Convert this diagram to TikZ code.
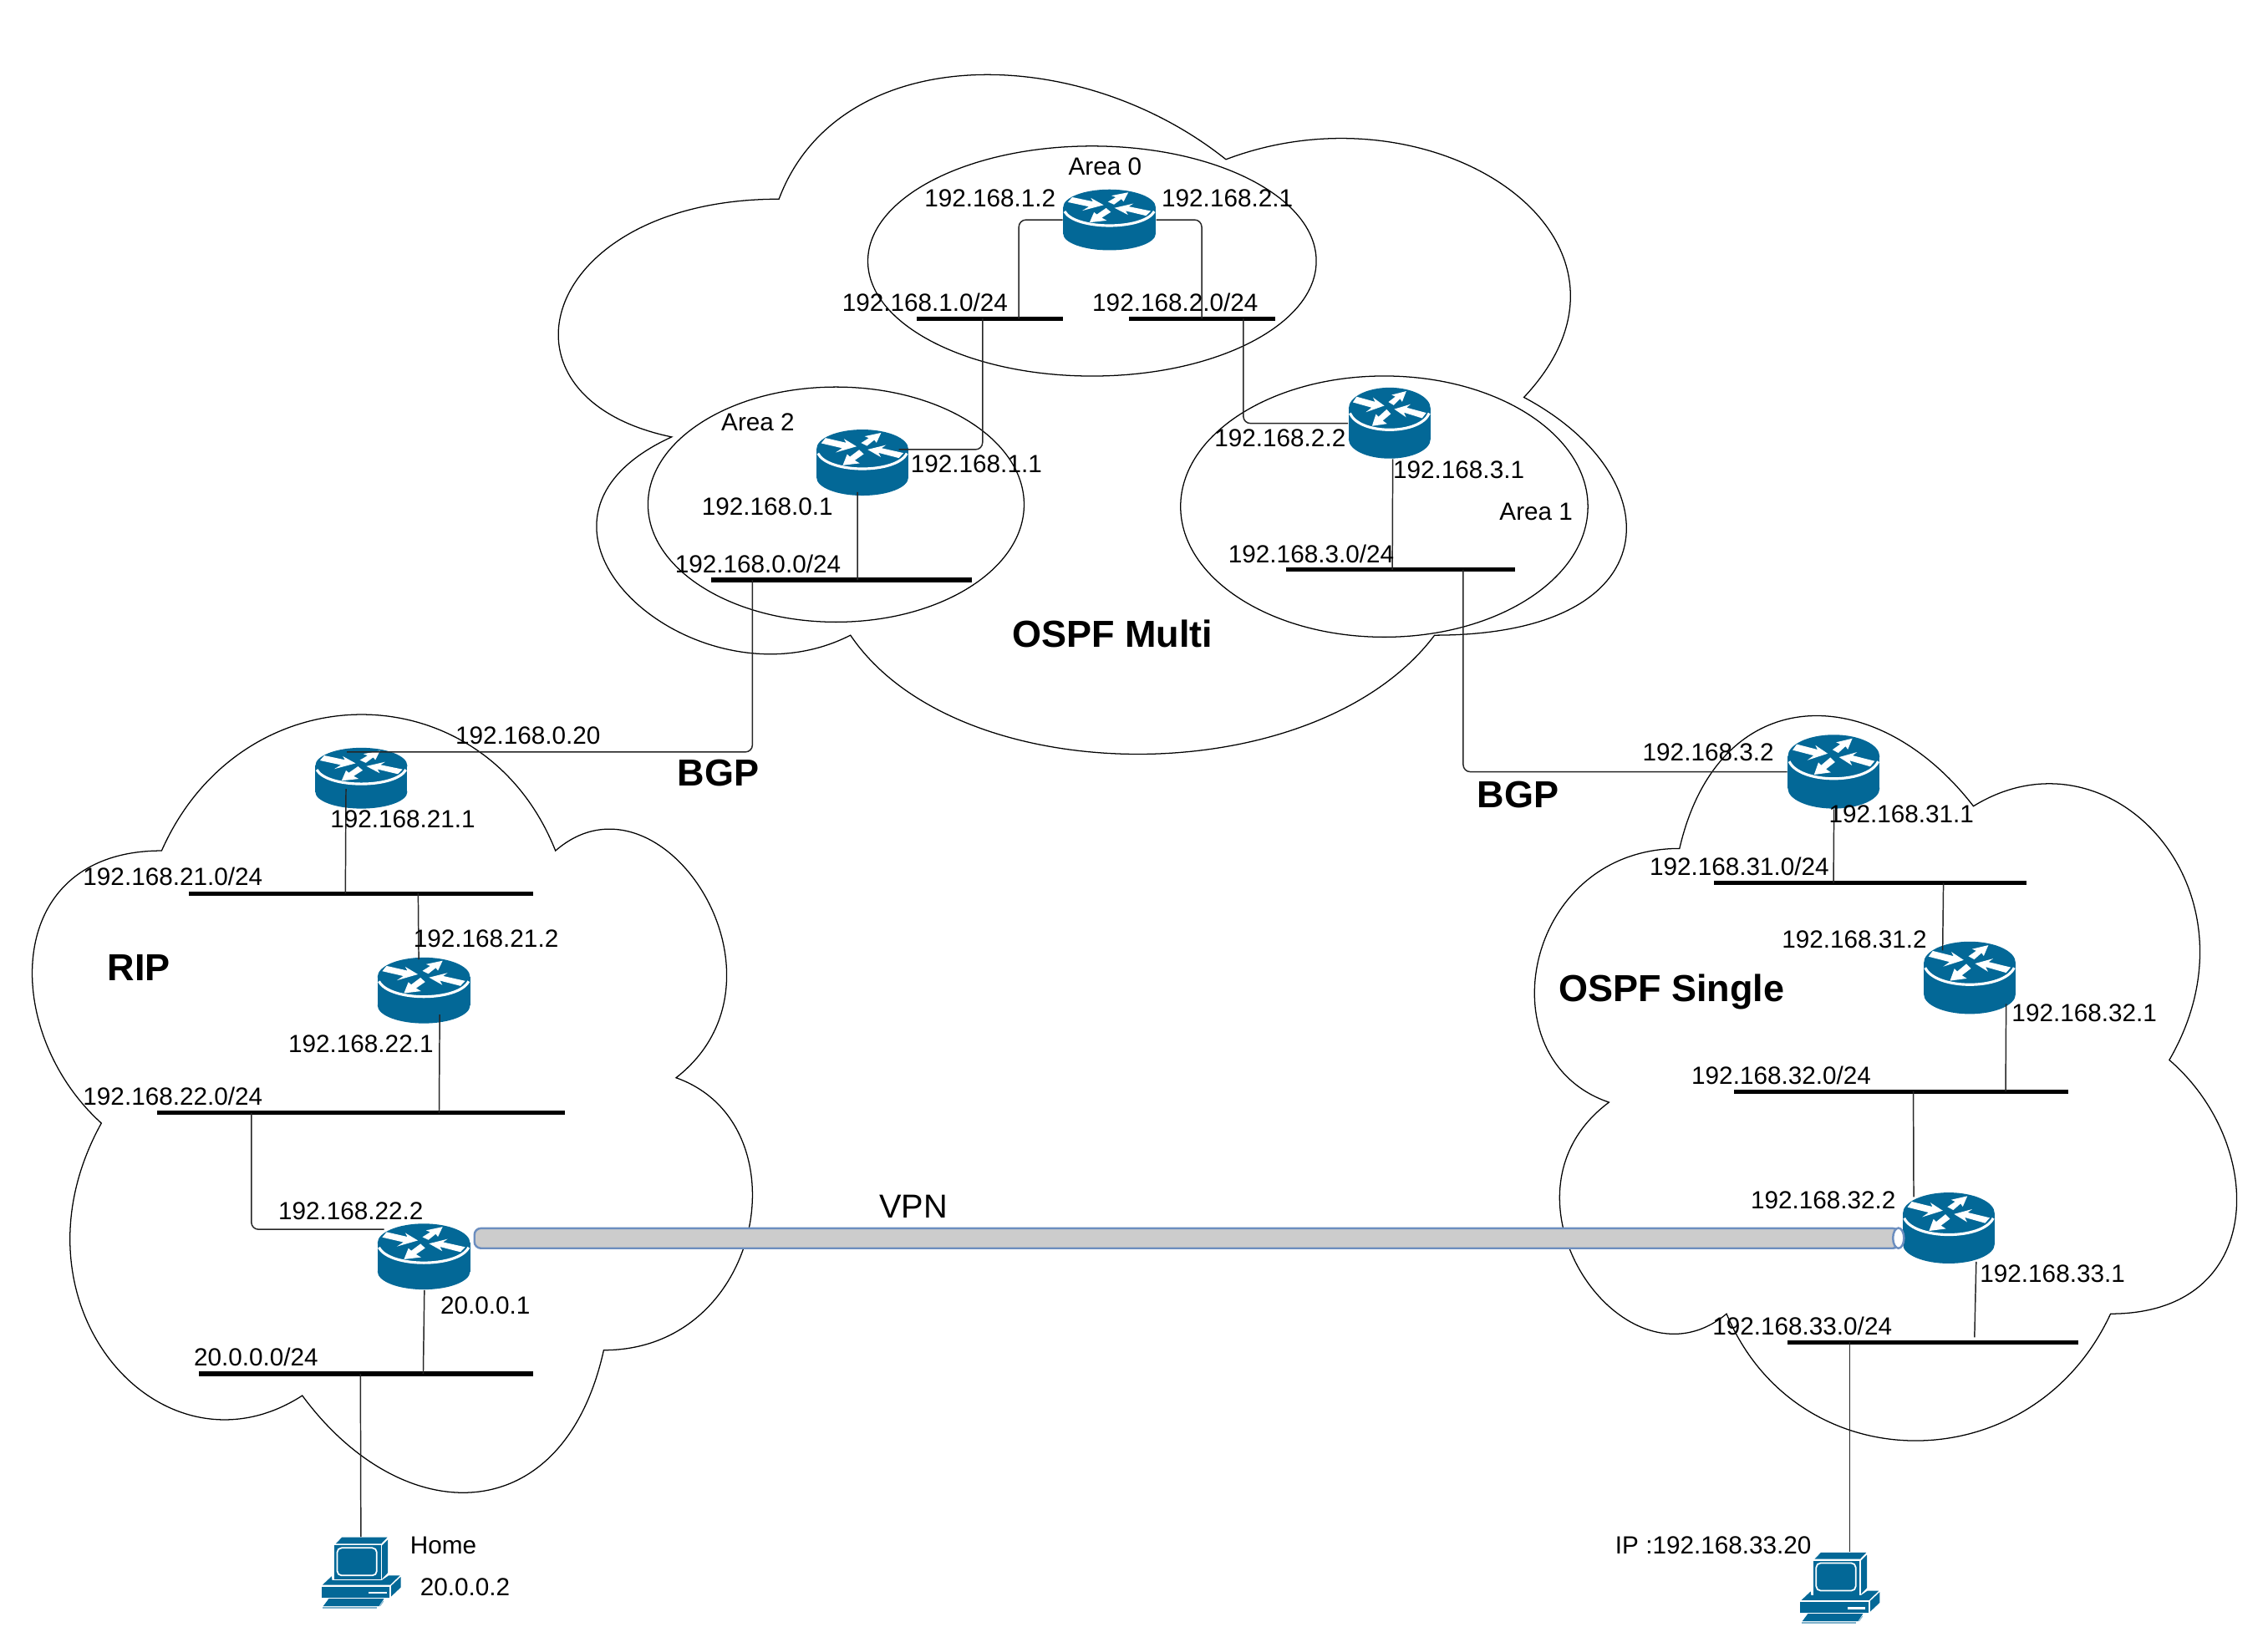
\documentclass[tikz,border=0pt]{standalone}
\usepackage{fontspec}
\setmainfont{Liberation Sans}
\usetikzlibrary{calc,shapes.geometric}
\definecolor{ciscoblue}{HTML}{036897}
\definecolor{pclight}{HTML}{7FB2CC}
\definecolor{tubeline}{HTML}{6C8EBF}
\definecolor{tubefill}{HTML}{CCCCCC}
\def\U{0.017309cm}
\tikzset{
  cloudline/.style={draw=black,line width=0.36pt},
  arealine/.style={draw=black,line width=0.36pt,ellipse,inner sep=0pt},
  link/.style={draw=black!85,line width=0.42pt,rounded corners=2.4pt},
  busbar/.style={fill=black,inner sep=0pt,minimum height={3*\U}},
  hub/.style={inner sep=0pt},
  lab/.style={inner sep=0pt,font=\fontsize{8.45}{10}\selectfont},
  labbig/.style={inner sep=0pt,font=\fontsize{11.3}{13}\selectfont},
  labbold/.style={inner sep=0pt,font=\fontsize{12.8}{15}\selectfont\bfseries},
  whitearrow/.style={fill=white,draw=white,line width=0.45pt},
  pics/router/.style={code={
    \begin{scope}[scale=.1926,shift={(-322,-311)}]
      \fill[ciscoblue] (322,262) ellipse [x radius=165,y radius=70];
      \fill[ciscoblue] (322,365) ellipse [x radius=165,y radius=65];
      \fill[ciscoblue] (157,262) rectangle (487,365);
      \draw[white,line width=0.9pt] (162,278) .. controls (200,352) and (444,352) .. (482,278);
      \filldraw[whitearrow] (178,240) -- (190,225) -- (268,243) -- (262,232) -- (295,252) -- (240,268) -- (255,258) -- cycle;
      \filldraw[whitearrow] (322,240) -- (350,222) -- (338,217) -- (385,207) -- (372,235) -- (365,226) -- (338,248) -- cycle;
      \filldraw[whitearrow] (465,278) -- (452,292) -- (375,272) -- (382,285) -- (347,265) -- (395,253) -- (385,260) -- cycle;
      \filldraw[whitearrow] (310,268) -- (323,280) -- (290,303) -- (305,312) -- (255,318) -- (268,285) -- (277,293) -- cycle;
    \end{scope}
  }},
  pics/pc/.style={code={
    \begin{scope}[scale=.1926,shift={(-275,-306)}]
      \fill[ciscoblue] (185,201) -- (207,178) -- (370,178) -- (348,201) -- cycle;
      \fill[ciscoblue] (351,207) -- (372,186) -- (372,305) -- (351,327) -- cycle;
      \fill[ciscoblue] (180,207) rectangle (346,330);
      \filldraw[draw=white,fill=ciscoblue,line width=0.5pt,rounded corners=1.5pt] (190,216) rectangle (332,315);
      \fill[ciscoblue] (137,349) -- (170,318) -- (172,332) -- (350,332) -- (375,315) -- (415,315) -- (380,349) -- cycle;
      \fill[ciscoblue] (133,356) rectangle (378,395);
      \fill[white] (303,373) rectangle (367,381);
      \fill[ciscoblue] (384,352) -- (418,320) -- (418,358) -- (384,390) -- cycle;
      \fill[ciscoblue] (160,398) -- (358,398) -- (340,425) -- (140,425) -- cycle;
      \fill[pclight] (138,428) rectangle (333,434);
      \fill[pclight] (342,425) -- (355,405) -- (357,408) -- (345,425) -- cycle;
    \end{scope}
  }},
}
\newcommand{\routerat}[5]{%
  \node[hub,minimum width={(#3-#2)*\U},minimum height={(#5-#4)*\U}] (#1) at ({(#2+#3)/2},{(#4+#5)/2}) {};
  \pic[xscale={(#3-#2)/63.6},yscale={(#5-#4)/45.8}] at (#1) {router};}
\newcommand{\busat}[4]{%
  \node[busbar,minimum width={(#3-#2)*\U}] (#1) at ({(#2+#3)/2},#4) {};}
\newcommand{\lbl}[4]{\node[lab] (#1) at (#2,#3) {#4};}
\newcommand{\cloudpath}{(.25,.25) .. controls (.05,.25) and (0,.5) .. (.16,.55)
  .. controls (0,.66) and (.18,.9) .. (.31,.8)
  .. controls (.4,1) and (.7,1) .. (.8,.8)
  .. controls (1,.8) and (1,.6) .. (.875,.5)
  .. controls (1,.3) and (.8,.1) .. (.625,.2)
  .. controls (.5,.05) and (.3,.05) .. (.25,.25) -- cycle}
\begin{document}
\begin{tikzpicture}[x=\U,y=-\U]
\useasboundingbox (0,0) rectangle (1568,1124.8);
\fill[white] (0,0) rectangle (1568,1124.8);

% clouds
\begin{scope}[shift={(332.5,0.6)},xscale=824.1,yscale=548.2]
  \draw[cloudline] \cloudpath;
\end{scope}
\begin{scope}[shift={(556.3,1090.4)},xscale=-555.7,yscale=-627.8]
  \draw[cloudline] \cloudpath;
\end{scope}
\begin{scope}[shift={(1025.7,440.4)},xscale=541.8,yscale=584.9]
  \draw[cloudline] \cloudpath;
\end{scope}

% OSPF areas
\node[arealine,minimum width={310*\U},minimum height={159*\U}] (area0) at (755,180.5) {};
\node[arealine,minimum width={260*\U},minimum height={162.5*\U}] (area2) at (578,348.8) {};
\node[arealine,minimum width={281.6*\U},minimum height={180.5*\U}] (area1) at (957,350.2) {};

% tube
\filldraw[draw=tubeline,fill=tubefill,line width=0.7pt,rounded corners=2.2pt]
  (1313,849.2) -- (328,849.2) -- (328,863) -- (1313,863) -- cycle;

% routers
\routerat{r0}{735}{799}{131}{173}
\routerat{r2}{564.5}{628}{297}{342.6}
\routerat{r1}{932.4}{989}{268}{317}
\routerat{r31}{1236}{1299.5}{508}{559}
\routerat{r32}{1330}{1393.5}{651}{701}
\routerat{r33}{1315.5}{1379}{824.5}{873.5}
\routerat{r21}{218}{281.6}{517}{559}
\routerat{r22}{261}{325}{662}{707.5}
\routerat{r23}{261}{325}{846}{891.5}

\filldraw[draw=tubeline,fill=white,line width=0.7pt] (1312.5,856) ellipse [x radius=3.8,y radius=7];

% PCs
\node[hub,minimum width={55*\U},minimum height={49*\U}] (pc1) at (249.5,1087.5) {};
\pic at (pc1) {pc};
\node[hub,minimum width={55*\U},minimum height={49*\U}] (pc2) at (1272,1098) {};
\pic at (pc2) {pc};

% buses
\busat{b10}{633.7}{735}{220.4}
\busat{b20}{780.5}{881.6}{220.4}
\busat{b0}{491.6}{671.8}{401}
\busat{b3}{889}{1047.5}{393.9}
\busat{b21}{130.5}{368.6}{617.7}
\busat{b22}{108.6}{390.6}{769.4}
\busat{bh}{137.4}{368.6}{949.8}
\busat{b31}{1185}{1401}{610.4}
\busat{b32}{1199}{1430}{754.6}
\busat{b33}{1235.5}{1437}{928}

% connectors
\draw[link] (r0.west) -| ($(b10.west)+(71.1,0)$);
\draw[link] (r0.east) -| ($(b20.west)+(50.7,0)$);
\draw[link] ($(b10.west)+(46,0)$) |- ($(r2.east)+(-7,-9)$);
\draw[link] ($(b20.west)+(79.5,0)$) |- ($(r1.west)+(0,0.2)$);
\draw[link] ($(r1.south)+(2.2,0)$) -- ($(b3.west)+(74,0)$);
\draw[link] ($(r2.south)+(-3.4,-2.8)$) -- ($(b0.west)+(101.6,0)$);
\draw[link] ($(b0.west)+(29,0)$) |- ($(r21.north)+(-10,3.3)$);
\draw[link] ($(b3.west)+(123,0)$) |- ($(r31.west)+(0,0.1)$);
\draw[link] ($(r21.south)+(-10.6,-14)$) -- ($(b21.west)+(108.7,0)$);
\draw[link] ($(b21.west)+(159,0)$) -- ($(r22.north)+(-3.5,1.7)$);
\draw[link] ($(r22.south)+(11,-6.5)$) -- ($(b22.west)+(195.4,0)$);
\draw[link] ($(b22.west)+(65.6,0)$) |- ($(r23.west)+(5,-18.8)$);
\draw[link] ($(r23.south)+(0.4,0)$) -- ($(bh.west)+(155.6,0)$);
\draw[link] ($(bh.west)+(112.2,0)$) -- (pc1.north);
\draw[link] ($(r31.south)+(0.2,0)$) -- ($(b31.west)+(83,0)$);
\draw[link] ($(b31.west)+(159,0)$) -- ($(r32.north)+(-18.7,6.5)$);
\draw[link] ($(r32.south)+(25.2,-7.4)$) -- ($(b32.west)+(188,0)$);
\draw[link] ($(b32.west)+(124.2,0)$) -- ($(r33.north)+(-24.2,3.5)$);
\draw[link] ($(r33.south)+(19,-1.6)$) -- ($(b33.west)+(130,-3.4)$);
\coordinate (b33drop) at ($(b33.west)+(43.6,0)$);
\draw[link] (b33drop) -- (b33drop |- pc2.north);

% labels
\lbl{t1}{764}{115}{Area 0}
\lbl{t2}{684.5}{137}{192.168.1.2}
\lbl{t3}{848.5}{137}{192.168.2.1}
\lbl{t4}{639.5}{209}{192.168.1.0/24}
\lbl{t5}{812.5}{209}{192.168.2.0/24}
\lbl{t6}{524}{292}{Area 2}
\lbl{t7}{675}{321}{192.168.1.1}
\lbl{t8}{530.5}{350}{192.168.0.1}
\lbl{t9}{524}{390}{192.168.0.0/24}
\lbl{t10}{885}{303}{192.168.2.2}
\lbl{t11}{1008.5}{325}{192.168.3.1}
\lbl{t12}{1062}{354}{Area 1}
\lbl{t13}{906.5}{383}{192.168.3.0/24}
\node[labbold] (t14) at (769,438) {OSPF Multi};
\lbl{t15}{365}{508.5}{192.168.0.20}
\node[labbold] (t16) at (496.5,534.5) {BGP};
\node[labbold] (t17) at (1049.5,549.5) {BGP};
\lbl{t18}{1181}{520}{192.168.3.2}
\lbl{t19}{1314.5}{563}{192.168.31.1}
\lbl{t20}{278.5}{566.5}{192.168.21.1}
\lbl{t21}{119.5}{606}{192.168.21.0/24}
\lbl{t22}{336}{649}{192.168.21.2}
\node[labbold] (t23) at (96,669) {RIP};
\lbl{t24}{249.5}{721.5}{192.168.22.1}
\lbl{t25}{119.5}{758}{192.168.22.0/24}
\lbl{t26}{242.5}{837.5}{192.168.22.2}
\node[labbig] (t27) at (631.5,834) {VPN};
\lbl{t28}{335.5}{902.5}{20.0.0.1}
\lbl{t29}{177}{938}{20.0.0.0/24}
\lbl{t30}{306.5}{1068.5}{Home}
\lbl{t31}{321.5}{1097.5}{20.0.0.2}
\lbl{t32}{1202.5}{599}{192.168.31.0/24}
\lbl{t33}{1282}{649.5}{192.168.31.2}
\node[labbold] (t34) at (1155.5,686) {OSPF Single};
\lbl{t35}{1441}{700.5}{192.168.32.1}
\lbl{t36}{1231.5}{743.5}{192.168.32.0/24}
\lbl{t37}{1260.5}{830}{192.168.32.2}
\lbl{t38}{1419}{880.5}{192.168.33.1}
\lbl{t39}{1246}{917}{192.168.33.0/24}
\lbl{t40}{1184.5}{1068.5}{IP :192.168.33.20}
\end{tikzpicture}
\end{document}
